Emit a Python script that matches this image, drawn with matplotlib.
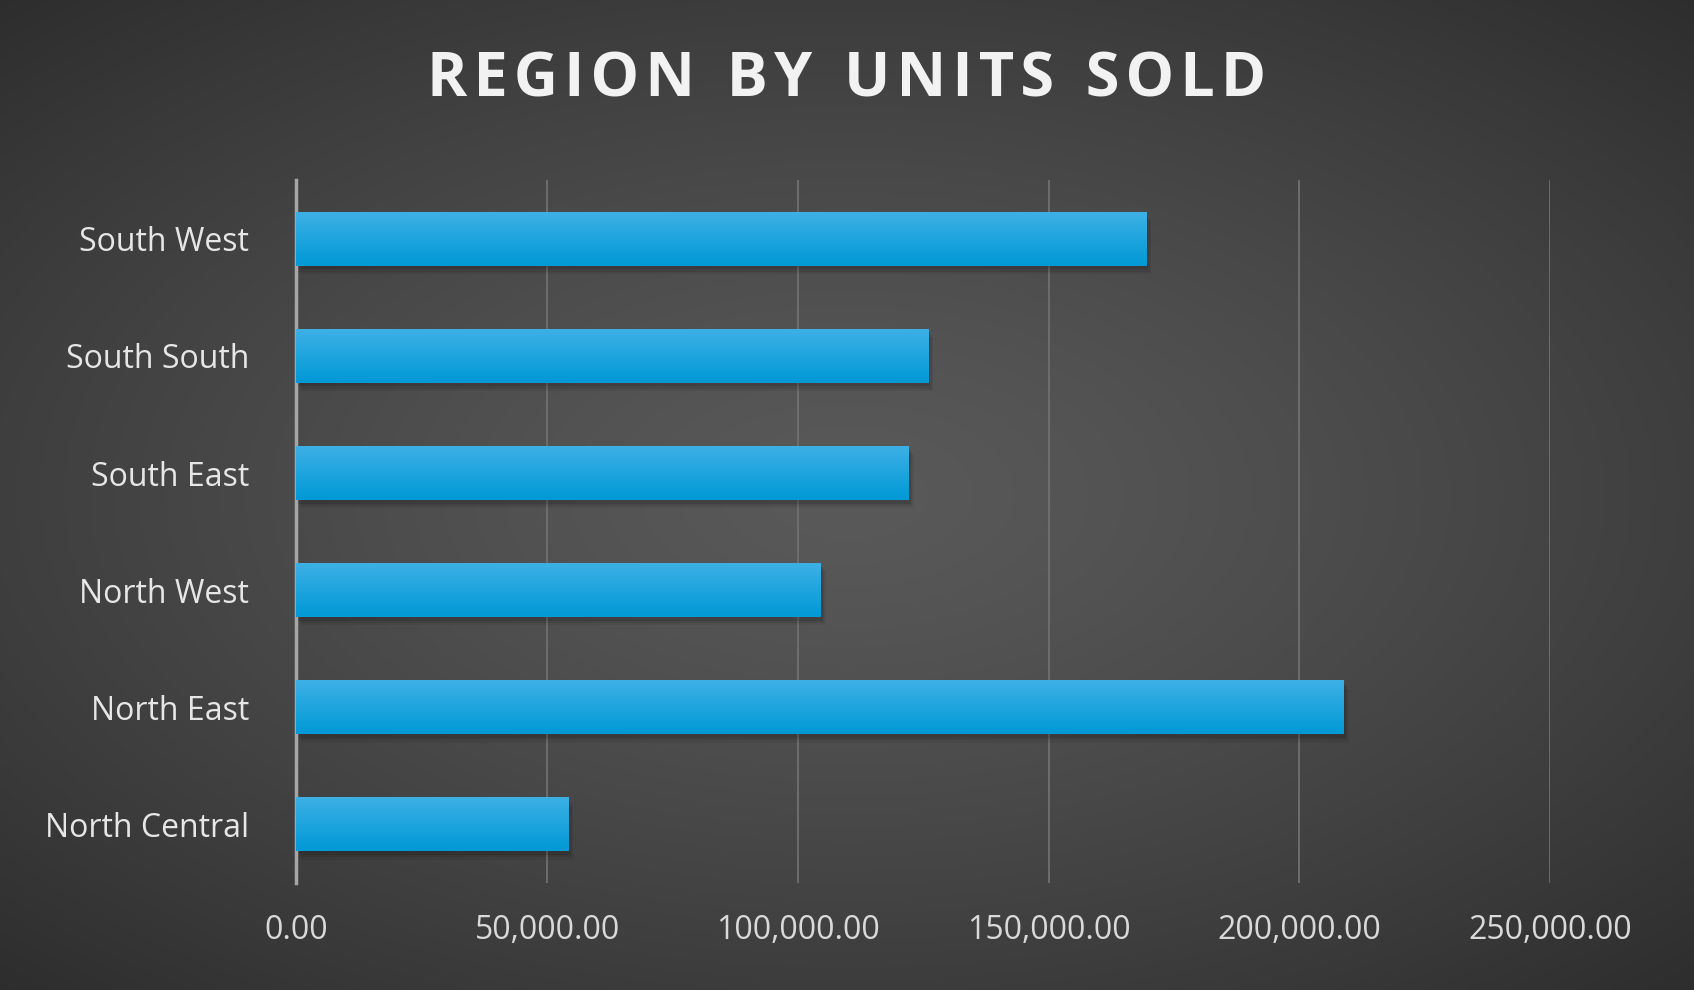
import numpy as np
import matplotlib
matplotlib.use("Agg")
import matplotlib.pyplot as plt
from matplotlib.patches import Rectangle

regions = ["North Central", "North East", "North West", "South East", "South South", "South West"]
units = [54300, 209000, 104700, 122200, 126100, 169600]
xticks = [0, 50000, 100000, 150000, 200000, 250000]

plt.rcParams["font.family"] = ["Open Sans", "DejaVu Sans"]

fig = plt.figure(figsize=(16.94, 9.9), dpi=100)

# radial background
bg = fig.add_axes([0, 0, 1, 1])
yy, xx = np.mgrid[-1:1:400j, -1:1:700j]
r = np.sqrt((xx * 0.85) ** 2 + (yy * 0.9) ** 2)
shade = np.clip(0.35 - 0.13 * r ** 1.3, 0.18, 0.35)
bg.imshow(np.dstack([shade] * 3), aspect="auto", extent=[0, 1, 0, 1])
bg.axis("off")

ax = fig.add_axes([0.175, 0.108, 0.74, 0.71])
ax.patch.set_alpha(0)
y = np.arange(len(regions))
h = 0.46

# bars with a vertical gradient and a soft shadow
grad = np.linspace(0, 1, 50).reshape(-1, 1)
top = np.array([0.24, 0.69, 0.90])
bot = np.array([0.0, 0.60, 0.84])
cols = bot + (top - bot) * grad[..., None]
for yi, v in zip(y, units):
    for k, a in enumerate([0.10, 0.08, 0.06]):
        ax.add_patch(Rectangle((300 + k * 300, yi - h / 2 - 0.03 - k * 0.02), v, h,
                               color="black", alpha=a, lw=0, zorder=2))
    ax.imshow(cols, aspect="auto", extent=[0, v, yi - h / 2, yi + h / 2], zorder=3, origin="lower")

ax.set_xlim(0, 250000)
ax.set_ylim(-0.5, len(regions) - 0.5)
ax.set_yticks(y)
ax.set_yticklabels(regions)
ax.set_xticks(xticks)
ax.set_xticklabels([f"{t:,.2f}" for t in xticks])
ax.tick_params(colors="#d9d9d9", labelsize=23, length=0, pad=34)
ax.tick_params(axis="x", pad=22)
for t in ax.get_yticklabels():
    t.set_color("#e6e6e6")
ax.grid(axis="x", color="#707070", lw=1.3, zorder=0)
ax.set_axisbelow(True)
for s in ["top", "right", "bottom"]:
    ax.spines[s].set_visible(False)
ax.spines["left"].set_color("#a6a6a6")
ax.spines["left"].set_linewidth(2.5)

fig.text(0.5, 0.918, "R E G I O N   B Y   U N I T S   S O L D".replace(" ", "\u200a").replace("\u200a\u200a\u200a", "  "),
         ha="center", va="center", fontsize=44, fontweight="bold", color="#f2f2f2")

fig.savefig("out.png", dpi=100)
